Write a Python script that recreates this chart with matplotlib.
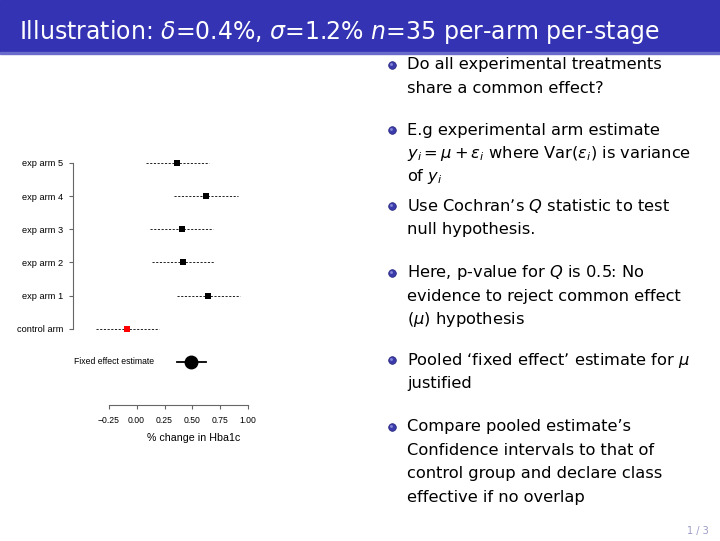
import numpy as np
import matplotlib
matplotlib.use('Agg')
import matplotlib.pyplot as plt
from matplotlib.patches import Rectangle

plt.rcParams['mathtext.fontset'] = 'dejavusans'

# forest plot values (% change in Hba1c)
arms = ['control arm', 'exp arm 1', 'exp arm 2', 'exp arm 3', 'exp arm 4', 'exp arm 5']
est = [-0.086, 0.642, 0.415, 0.406, 0.621, 0.364]
lo = [-0.366, 0.362, 0.135, 0.123, 0.335, 0.081]
hi = [0.198, 0.926, 0.696, 0.687, 0.905, 0.648]
arm_col = ['red', 'black', 'black', 'black', 'black', 'black']
fixed_est = 0.49
fixed_lo = 0.365
fixed_hi = 0.62
xticks = [-0.25, 0.0, 0.25, 0.5, 0.75, 1.0]

title = r'Illustration: $\delta$=0.4%, $\sigma$=1.2% $n$=35 per-arm per-stage'
bullets = [
    ['Do all experimental treatments', 'share a common effect?'],
    ['E.g experimental arm estimate',
     r'$y_i = \mu + \epsilon_i$ where Var($\epsilon_i$) is variance',
     r'of $y_i$'],
    ["Use Cochran\u2019s $Q$ statistic to test", 'null hypothesis.'],
    ['Here, p-value for $Q$ is 0.5: No', 'evidence to reject common effect',
     r'($\mu$) hypothesis'],
    ["Pooled \u2018fixed effect\u2019 estimate for $\\mu$", 'justified'],
    ["Compare pooled estimate\u2019s", 'Confidence intervals to that of',
     'control group and declare class', 'effective if no overlap'],
]
bullet_y = [65, 130, 206, 273, 360, 427]

W, H = 720, 541
fig = plt.figure(figsize=(W / 100, H / 100), dpi=100)

# slide background in pixel coords
bg = fig.add_axes([0, 0, 1, 1])
bg.set_xlim(0, W)
bg.set_ylim(H, 0)
bg.axis('off')
bg.add_patch(Rectangle((0, 0), W, 52, color='#3333b3', zorder=1))
bg.add_patch(Rectangle((0, 52), W, 1.5, color='#6b6bcc', zorder=1))
bg.text(19, 32, title, color='white', fontsize=17, va='center', ha='left',
        family='DejaVu Sans', zorder=2)

for item, y0 in zip(bullets, bullet_y):
    bg.plot(392, y0, 'o', ms=5.5, color='#3b3bab', mec='#22227a', mew=0.5, zorder=2)
    bg.plot(391.2, y0 - 0.8, 'o', ms=2, color='#8a8ad8', mew=0, zorder=3)
    for k, line in enumerate(item):
        bg.text(407, y0 + k * 23.4, line, fontsize=11.7, va='center', ha='left',
                family='DejaVu Sans', color='black')

bg.text(709, 531, '1 / 3', fontsize=7, ha='right', va='center', color='#9a9ac4')

# forest plot
ax = fig.add_axes([90 / W, 1 - 385 / H, 160 / W, 235 / H])
ax.patch.set_alpha(0)
for s in ['top', 'right']:
    ax.spines[s].set_visible(False)
ax.spines['left'].set_position(('outward', 12))
ax.spines['bottom'].set_position(('outward', 14.4))

rows = np.arange(1, len(arms) + 1)
for r, m, l, h, c in zip(rows, est, lo, hi, arm_col):
    ax.plot([l, h], [r, r], color='#222222', lw=0.7, ls=(0, (2.2, 1.6)), zorder=1)
    ax.plot(m, r, 's', color=c, ms=5, mew=0, zorder=2)
ax.plot([fixed_lo, fixed_hi], [0, 0], color='black', lw=1.3, zorder=1)
ax.plot(fixed_est, 0, 'o', color='black', ms=9, zorder=2)
ax.text(0.4, 0, 'Fixed effect estimate', transform=ax.get_yaxis_transform(),
        ha='right', va='center', fontsize=6.2, family='Liberation Sans')

ax.set_xlim(-0.417, 1.015)
ax.set_ylim(-0.693, 6.386)
ax.set_yticks(rows)
ax.set_yticklabels(arms, family='Liberation Sans', fontsize=6.7)
ax.set_xticks(xticks)
ax.set_xticklabels([('%.2f' % t).replace('-', '\u2212') for t in xticks],
                   family='Liberation Sans', fontsize=6.2)
ax.spines['left'].set_bounds(1, 6)
ax.spines['bottom'].set_bounds(-0.25, 1.0)
for s in ['left', 'bottom']:
    ax.spines[s].set_color('#666666')
    ax.spines[s].set_linewidth(0.8)
ax.tick_params(axis='y', length=3, width=0.8, color='#666666', pad=4)
ax.tick_params(axis='x', length=3, width=0.8, color='#666666', pad=5)

bg.text(193.5, 438, '% change in Hba1c', fontsize=7.7, ha='center', va='center',
        family='Liberation Sans')

fig.savefig('out.png', dpi=100)
